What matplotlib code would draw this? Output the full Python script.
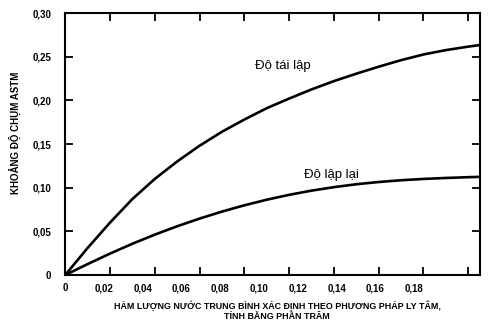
import matplotlib
matplotlib.use("Agg")
import matplotlib.pyplot as plt

# Độ tái lập (reproducibility) curve
x_tai_lap = [0, 0.01, 0.02, 0.03, 0.04, 0.05, 0.06, 0.07, 0.08, 0.09, 0.10,
             0.11, 0.12, 0.13, 0.14, 0.15, 0.16, 0.17, 0.18, 0.1854]
y_tai_lap = [0, 0.031, 0.060, 0.087, 0.110, 0.130, 0.148, 0.164, 0.178, 0.191, 0.202,
             0.2125, 0.222, 0.2305, 0.2385, 0.246, 0.2525, 0.2575, 0.2615, 0.2634]

# Độ lặp lại (repeatability) curve
x_lap_lai = [0, 0.01, 0.02, 0.03, 0.04, 0.05, 0.06, 0.07, 0.08, 0.09, 0.10,
             0.11, 0.12, 0.13, 0.14, 0.15, 0.16, 0.17, 0.18, 0.1854]
y_lap_lai = [0, 0.0125, 0.0245, 0.0358, 0.0462, 0.0558, 0.0646, 0.0726, 0.0798, 0.0862, 0.0918,
             0.0966, 0.1006, 0.1039, 0.1065, 0.1085, 0.1100, 0.1111, 0.1120, 0.1124]

x_ticks = [0.02, 0.04, 0.06, 0.08, 0.10, 0.12, 0.14, 0.16, 0.18]
x_label_vals = [0, 0.02, 0.04, 0.06, 0.08, 0.10, 0.12, 0.14, 0.16, 0.18]
x_labels = ["0", "0,02", "0,04", "0,06", "0,08", "0,10", "0,12", "0,14", "0,16", "0,18"]
y_ticks = [0, 0.05, 0.10, 0.15, 0.20, 0.25, 0.30]
y_labels = ["0", "0,05", "0,10", "0,15", "0,20", "0,25", "0,30"]

# the printed scale numbers are set a bit tighter than the tick marks
label_stretch = 1.155

plt.rcParams["font.family"] = ["Liberation Sans", "DejaVu Sans"]

fig = plt.figure(figsize=(4.88, 3.23), dpi=100)
ax = fig.add_axes([0.1337, 0.1486, 0.8504, 0.8111])

ax.plot(x_tai_lap, y_tai_lap, color="black", lw=1.9, solid_capstyle="round")
ax.plot(x_lap_lai, y_lap_lai, color="black", lw=1.9, solid_capstyle="round")

ax.set_xlim(0, 0.1854)
ax.set_ylim(0, 0.30)

for s in ax.spines.values():
    s.set_linewidth(1.5)

ax.set_xticks(x_ticks)
ax.set_xticklabels([])
ax.set_yticks(y_ticks)
ax.set_yticklabels(y_labels, fontsize=7, fontweight="bold")
ax.tick_params(axis="both", direction="in", length=5.5, width=1.3,
               top=True, right=True)
ax.tick_params(axis="y", pad=10)

sec = ax.secondary_xaxis("bottom", functions=(lambda x: x * label_stretch,
                                              lambda x: x / label_stretch))
sec.set_xticks(x_label_vals)
sec.set_xticklabels(x_labels, fontsize=7, fontweight="bold")
sec.tick_params(length=0, pad=6)
sec.spines["bottom"].set_visible(False)

ax.text(0.0973, 0.239, "Độ tái lập", fontsize=9.5, ha="center", va="center")
ax.text(0.1190, 0.115, "Độ lập lại", fontsize=9.5, ha="center", va="center")

fig.text(0.031, 0.588, "KHOẢNG ĐỘ CHỤM ASTM", rotation=90, fontsize=7,
         fontweight="bold", ha="center", va="center")
fig.text(0.568, 0.037, "HÀM LƯỢNG NƯỚC TRUNG BÌNH XÁC ĐỊNH THEO PHƯƠNG PHÁP LY TÂM,\nTÍNH BẰNG PHẦN TRĂM",
         fontsize=6.4, fontweight="bold", ha="center", va="center",
         linespacing=1.15)

fig.savefig("out.png", dpi=100)
